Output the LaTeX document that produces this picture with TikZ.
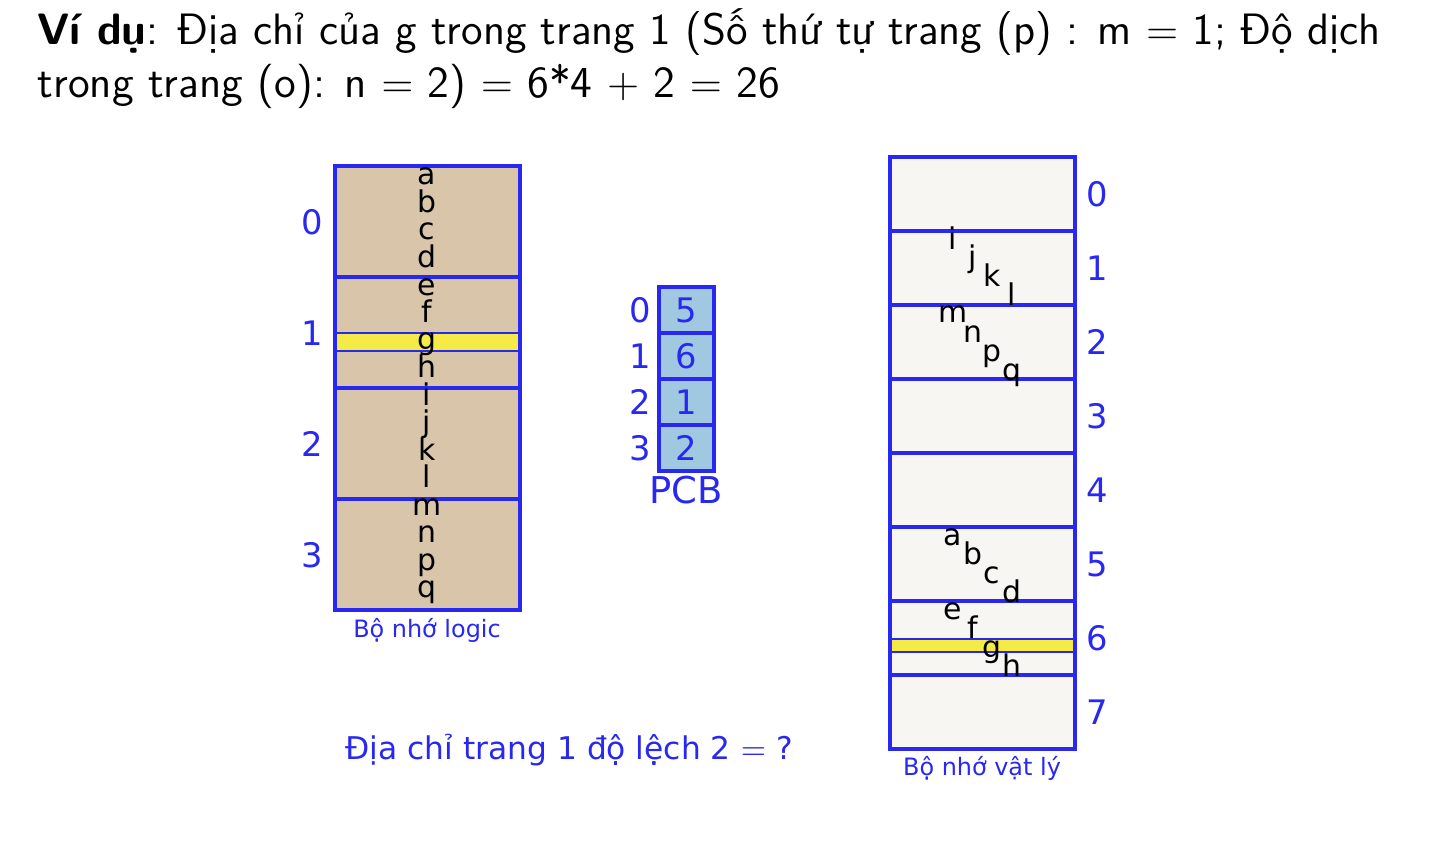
\documentclass[tikz,border=0pt]{standalone}
\usepackage{fontspec}
\newfontfamily\diagfont{DejaVu Sans}
\definecolor{memblue}{RGB}{40,40,240}
\definecolor{logicfill}{RGB}{216,197,170}
\definecolor{physfill}{RGB}{248,246,243}
\definecolor{pcbfill}{RGB}{160,200,225}
\definecolor{hilite}{RGB}{245,235,70}
\tikzset{
  memline/.style={draw=memblue,line width=1pt},
  band/.style={fill=hilite,draw=memblue,line width=0.4pt},
  idx/.style={text=memblue,font=\diagfont\fontsize{9.6}{11}\selectfont},
  cell/.style={font=\diagfont\fontsize{8.5}{10}\selectfont,anchor=base,inner sep=0pt},
  caption/.style={text=memblue,font=\diagfont\fontsize{6.8}{8}\selectfont}
}
\begin{document}
\begin{tikzpicture}[x=0.01cm,y=-0.01cm]
  \useasboundingbox (0,0) rectangle (1439,867);
  % header
  \node[anchor=base west,inner sep=0pt,font=\sffamily\fontsize{12.5}{15}\selectfont] (hdrA) at (37,45)
    {\textbf{Ví dụ}: Địa chỉ của g trong trang 1 (Số thứ tự trang (p) : m \(=\) 1; Độ dịch};
  \node[anchor=base west,inner sep=0pt,font=\sffamily\fontsize{12.6}{15}\selectfont] (hdrB) at (37,98)
    {trong trang (o): n \(=\) 2) \(=\) 6*4 \(+\) 2 \(=\) 26};

  % logical memory
  \fill[logicfill] (335,166) rectangle (520,610);
  \draw[band] (335,333) rectangle (520,351);
  \draw[memline] (335,166) rectangle (520,610);
  \foreach \r in {1,2,3}
    \draw[memline] (335,166+111*\r) -- (520,166+111*\r);
  \foreach \r in {0,...,3}
    \node[idx] (lpg\r) at (312,222+111*\r) {\r};
  \foreach \l [count=\k from 0] in {a,b,c,d,e,f,g,h,i,j,k,l,m,n,p,q}
    \node[cell] (lg\l) at (427,185+27.5*\k) {\l};
  \node[caption] (lcap) at (427,630) {Bộ nhớ logic};

  % page table
  \fill[pcbfill] (659,287) rectangle (714,471);
  \draw[memline] (659,287) rectangle (714,471);
  \foreach \r/\f in {0/5,1/6,2/1,3/2} {
    \draw[memline] (659,287+46*\r) -- (714,287+46*\r);
    \node[idx] (pidx\r) at (640,310+46*\r) {\r};
    \node[idx] (pfr\r) at (686,310+46*\r) {\f};
  }
  \node[idx,font=\diagfont\fontsize{10.5}{12}\selectfont] (pcb) at (686,490) {PCB};

  % physical memory
  \fill[physfill] (890,157) rectangle (1075,749);
  \draw[band] (890,639) rectangle (1075,652);
  \draw[memline] (890,157) rectangle (1075,749);
  \foreach \r in {1,...,7}
    \draw[memline] (890,157+74*\r) -- (1075,157+74*\r);
  \foreach \r in {0,...,7}
    \node[idx] (fr\r) at (1097,194+74*\r) {\r};
  \foreach \t/\ls in {231/{i,j,k,l},305/{m,n,p,q},527/{a,b,c,d},601/{e,f,g,h}}
    \foreach \l [count=\j from 0] in \ls
      \node[cell] (ph\l) at (953+19.5*\j,\t+18+19*\j) {\l};
  \node[caption] (pcap) at (982,768) {Bộ nhớ vật lý};

  \node[text=memblue,font=\diagfont\fontsize{8.9}{11}\selectfont] (query) at (569,750)
    {Địa chỉ trang 1 độ lệch 2 \(=\) ?};
\end{tikzpicture}
\end{document}
